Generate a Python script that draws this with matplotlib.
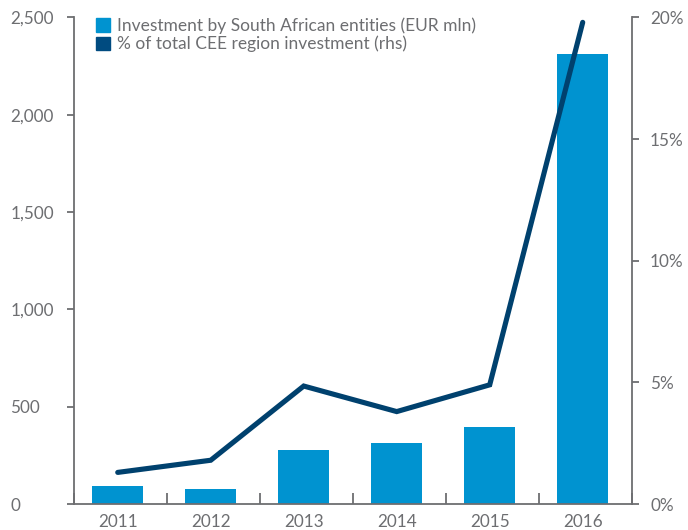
import numpy as np
import matplotlib
matplotlib.use('Agg')
import matplotlib.pyplot as plt
from matplotlib.patches import Patch

plt.rcParams['font.family'] = ['Lato', 'DejaVu Sans']

# ---------------- data ----------------
years = ['2011', '2012', '2013', '2014', '2015', '2016']
investment = [95, 77, 278, 315, 396, 2312]          # EUR mln
share_pct = [1.3, 1.8, 4.85, 3.8, 4.9, 19.8]        # % of total CEE (rhs)

bar_label = 'Investment by South African entities (EUR mln)'
line_label = '% of total CEE region investment (rhs)'

bar_color = '#0093D0'
line_color = '#00416E'
legend_line_color = '#004B80'
grey = '#6D6E71'

fig = plt.figure(figsize=(6.88, 5.3), dpi=100)
ax = fig.add_axes([0.1076, 0.049, 0.811, 0.918])
ax2 = ax.twinx()

x = np.arange(len(years))
ax.bar(x, investment, width=0.55, color=bar_color, zorder=2)
ax2.plot(x, share_pct, color=line_color, lw=3.7,
         solid_capstyle='round', solid_joinstyle='miter', zorder=3)

ax.set_xlim(-0.46, 5.53)
ax.set_ylim(0, 2500)
ax2.set_ylim(0, 20)

# ticks
ax.set_yticks([0, 500, 1000, 1500, 2000, 2500])
ax.set_yticklabels(['0', '500', '1,000', '1,500', '2,000', '2,500'])
ax2.set_yticks([0, 5, 10, 15, 20])
ax2.set_yticklabels(['0%', '5%', '10%', '15%', '20%'])

ax.set_xticks(x)
ax.set_xticklabels(years)
ax.set_xticks(np.arange(7) - 0.47, minor=True)
ax.tick_params(axis='x', which='major', length=0, pad=7, labelsize=12.3, labelcolor=grey)
ax.tick_params(axis='x', which='minor', direction='in', length=8, width=1.3, color=grey)
ax.tick_params(axis='y', direction='out', length=5, width=1.3, color=grey,
               labelsize=12.3, labelcolor=grey, pad=41)
for lab in ax.get_yticklabels():
    lab.set_horizontalalignment('left')
ax2.tick_params(axis='y', direction='out', length=5, width=1.3, color=grey,
                labelsize=12.3, labelcolor=grey, pad=8)

for a in (ax, ax2):
    a.spines['top'].set_visible(False)
    for s in ('left', 'right', 'bottom'):
        a.spines[s].set_color(grey)
        a.spines[s].set_linewidth(1.3)
ax.spines['right'].set_visible(False)
ax2.spines['left'].set_visible(False)
ax2.spines['bottom'].set_visible(False)

handles = [Patch(color=bar_color, label=bar_label),
           Patch(color=legend_line_color, label=line_label)]
ax2.legend(handles=handles, loc='upper left', bbox_to_anchor=(0.04, 1.0),
           frameon=False, fontsize=12.5, labelcolor=grey,
           handlelength=0.8, handleheight=0.8, handletextpad=0.4,
           labelspacing=0.1, borderaxespad=0, borderpad=0)

plt.savefig('out.png', dpi=100)
